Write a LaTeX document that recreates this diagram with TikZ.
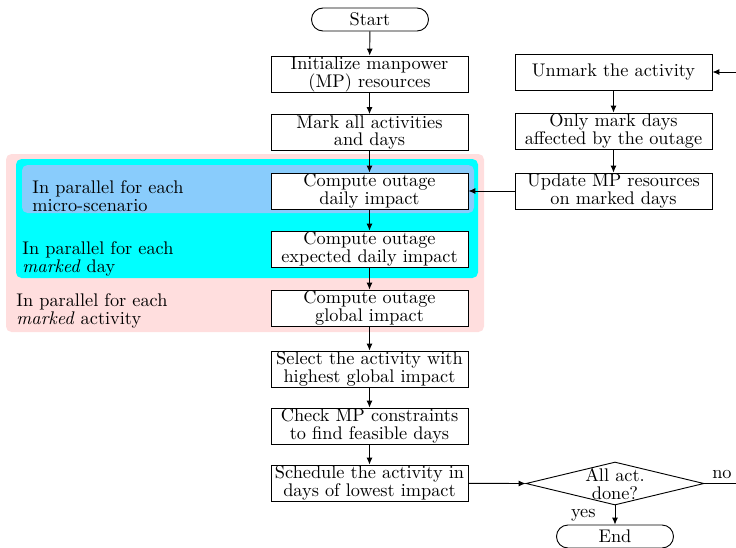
\documentclass[tikz,border=0pt]{standalone}
\usetikzlibrary{arrows.meta,shapes.geometric}
\newcommand\pxu{0.5465pt}
\definecolor{bgpink}{RGB}{255,222,222}
\definecolor{bgcyan}{RGB}{0,255,255}
\definecolor{bgblue}{RGB}{137,204,252}
\tikzset{
  txt/.style={font=\fontsize{10}{9.8}\selectfont},
  proc/.style={txt, draw, fill=white, align=center, inner sep=0pt,
    minimum width=197*\pxu, minimum height=36*\pxu},
  term/.style={txt, draw, fill=white, inner sep=0pt, rounded corners=11.5*\pxu,
    minimum width=117*\pxu, minimum height=23*\pxu},
  dia/.style={draw, fill=white, diamond, inner sep=0pt,
    minimum width=178*\pxu, minimum height=43*\pxu},
  note/.style={txt, align=left, inner sep=0pt, anchor=west},
  flow/.style={line width=0.5pt, -{Latex[length=3.8pt,width=3.3pt]}},
  region/.style={rounded corners=3pt},
}
\begin{document}
\begin{tikzpicture}[x=\pxu, y=-\pxu, line width=0.5pt]
\useasboundingbox (0,0) rectangle (736,547);
\clip (0,0) rectangle (736,547);

% nested parallel regions
\fill[region, bgpink] (6,154) rectangle (484,332);
\fill[region, bgcyan] (16,159) rectangle (478,278);
\fill[region, bgblue] (22,165) rectangle (474,213);
\node[note] (nscen) at (32,196.5) {In parallel for each\\micro-scenario};
\node[note] (nday) at (22,259) {In parallel for each\\\textit{marked} day};
\node[note] (nact) at (16,310.5) {In parallel for each\\\textit{marked} activity};

% main column
\node[term] (start) at (370,19.5) {Start};
\node[proc] (init) at (369.5,74) {Initialize manpower\\(MP) resources};
\node[proc] (mark) at (369.5,132.5) {Mark all activities\\and days};
\node[proc] (daily) at (369.5,191) {Compute outage\\daily impact};
\node[proc] (expd) at (369.5,249) {Compute outage\\expected daily impact};
\node[proc] (glob) at (369.5,308) {Compute outage\\global impact};
\node[proc] (sel) at (369.5,369) {Select the activity with\\highest global impact};
\node[proc] (chk) at (369.5,426) {Check MP constraints\\to find feasible days};
\node[proc] (sch) at (369.5,483) {Schedule the activity in\\days of lowest impact};

% decision and end
\node[dia] (dec) at (615,483.5) {};
\node[txt, align=center, inner sep=0pt] (dect) at (615,484.5) {All act.\\done?};
\node[term] (fin) at (615,536.5) {End};

% update column
\node[proc] (unm) at (613.5,72) {Unmark the activity};
\node[proc] (only) at (613.5,131) {Only mark days\\affected by the outage};
\node[proc] (upd) at (613.5,191) {Update MP resources\\on marked days};

% connectors
\draw[flow] (start) -- (init);
\draw[flow] (init) -- (mark);
\draw[flow] (mark) -- (daily);
\draw[flow] (daily) -- (expd);
\draw[flow] (expd) -- (glob);
\draw[flow] (glob) -- (sel);
\draw[flow] (sel) -- (chk);
\draw[flow] (chk) -- (sch);
\draw[flow] (sch) -- (dec.west);
\draw[flow] (dec.south) -- node[txt, left, inner sep=0pt, xshift=-19*\pxu] (yes) {yes} (fin.north);
\draw[flow] (dec.east) -- node[txt, above, inner sep=0pt, yshift=4*\pxu, xshift=-5*\pxu] (no) {no} ++(45,0) |- (unm.east);
\draw[flow] (unm) -- (only);
\draw[flow] (only) -- (upd);
\draw[flow] (upd.west) -- (daily.east);
\end{tikzpicture}
\end{document}
